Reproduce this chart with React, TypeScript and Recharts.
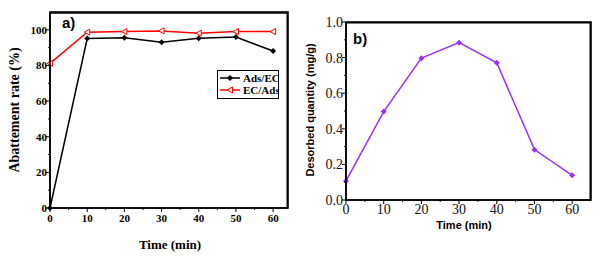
import { LineChart, Line, XAxis, YAxis, ReferenceLine } from 'recharts';

const times = [0, 10, 20, 30, 40, 50, 60];
const adsEc = [0, 95.1, 95.5, 93.0, 95.3, 95.9, 88.1];
const ecAds = [81.2, 98.7, 99.0, 99.4, 98.1, 99.0, 99.0];
const desorbed = [0.107, 0.497, 0.797, 0.884, 0.771, 0.283, 0.139];

const xMajor = [0, 10, 20, 30, 40, 50, 60];
const xMinor = [5, 15, 25, 35, 45, 55];
const yMajorA = [0, 20, 40, 60, 80, 100];
const yMinorA = [10, 30, 50, 70, 90];
const yMajorB = [0, 0.2, 0.4, 0.6, 0.8, 1.0];
const yMinorB = [0.1, 0.3, 0.5, 0.7, 0.9];

const dataA = times.map((t, i) => ({ time: t, adsEc: adsEc[i], ecAds: ecAds[i] }));
const dataB = times.map((t, i) => ({ time: t, q: desorbed[i] }));

const serif = '"Liberation Serif", "DejaVu Serif", serif';
const sans = '"Liberation Sans", Arial, sans-serif';

const xTick = (majors: number[], font: any, fmt: (v: number) => string) => (props: any) => {
  const { x, y, payload } = props;
  const major = majors.includes(payload.value);
  return (
    <g>
      <line x1={x} x2={x} y1={y} y2={y + (major ? 4 : 2)} stroke="#000" strokeWidth={1} />
      {major && (
        <text x={x} y={y + 14} textAnchor="middle" {...font}>
          {fmt(payload.value)}
        </text>
      )}
    </g>
  );
};

const yTick = (majors: number[], font: any, fmt: (v: number) => string, dy: number) => (props: any) => {
  const { x, y, payload } = props;
  const major = majors.some((m) => Math.abs(m - payload.value) < 1e-6);
  return (
    <g>
      <line x1={x} x2={x - (major ? 4 : 2)} y1={y} y2={y} stroke="#000" strokeWidth={1} />
      {major && (
        <text x={x - 3} y={y + dy} textAnchor="end" {...font}>
          {fmt(payload.value)}
        </text>
      )}
    </g>
  );
};

const DiamondDot = (props: any) => {
  const { cx, cy } = props;
  if (cx == null || cy == null) return null;
  return <path d={`M${cx},${cy - 3}L${cx + 3},${cy}L${cx},${cy + 3}L${cx - 3},${cy}Z`} fill="#000" />;
};

const TriDot = (props: any) => {
  const { cx, cy } = props;
  if (cx == null || cy == null) return null;
  return (
    <path
      d={`M${cx - 3},${cy}L${cx + 2.5},${cy - 3}L${cx + 2.5},${cy + 3}Z`}
      fill="#fff"
      stroke="#ff0000"
      strokeWidth={1}
    />
  );
};

const PurpleDot = (props: any) => {
  const { cx, cy } = props;
  if (cx == null || cy == null) return null;
  return <path d={`M${cx},${cy - 3}L${cx + 3},${cy}L${cx},${cy + 3}L${cx - 3},${cy}Z`} fill="#9b30ff" />;
};

// outline of the plot area, laid over the chart
const PlotBox = ({ x, y, w, h }: { x: number; y: number; w: number; h: number }) => (
  <svg width={303} height={261} style={{ position: 'absolute', left: 0, top: 0, zIndex: 5 }}>
    <rect x={x} y={y} width={w} height={h} fill="none" stroke="#000" strokeWidth={1.6} />
  </svg>
);

const LegendBox = () => (
  <svg width={62} height={29} style={{ position: 'absolute', left: 217, top: 70, zIndex: 6 }}>
    <rect x={0.5} y={0.5} width={61} height={28} fill="#fff" stroke="#000" strokeWidth={1} />
    <line x1={3} x2={23} y1={8} y2={8} stroke="#000" strokeWidth={1.5} />
    <path d="M13,5L16,8L13,11L10,8Z" fill="#000" />
    <text x={26} y={12} fontFamily={serif} fontWeight="bold" fontSize={11} fill="#000">
      Ads/EC
    </text>
    <line x1={3} x2={23} y1={20} y2={20} stroke="#ff0000" strokeWidth={1.5} />
    <path d="M10,20L15.5,17L15.5,23Z" fill="#fff" stroke="#ff0000" strokeWidth={1} />
    <text x={26} y={24} fontFamily={serif} fontWeight="bold" fontSize={11} fill="#000">
      EC/Ads
    </text>
  </svg>
);

const ChartA = () => {
  const tickFont = { fontFamily: serif, fontWeight: 'bold', fontSize: 11, fill: '#000' };
  return (
    <div style={{ position: 'absolute', left: 0, top: 0, width: 303, height: 261 }}>
      <LineChart width={303} height={261} data={dataA} margin={{ top: 12, right: 15, left: 0, bottom: 23 }}>
        <XAxis
          dataKey="time"
          type="number"
          domain={[0, 64]}
          ticks={[...xMajor, ...xMinor].sort((a, b) => a - b)}
          tick={xTick(xMajor, tickFont, (v) => String(v))}
          tickSize={0}
          tickMargin={0}
          height={30}
          stroke="#000"
          strokeWidth={1.5}
          interval={0}
        />
        <YAxis
          type="number"
          domain={[0, 110]}
          ticks={[...yMajorA, ...yMinorA].sort((a, b) => a - b)}
          tick={yTick(yMajorA, tickFont, (v) => String(v), 4)}
          tickSize={0}
          tickMargin={0}
          width={50}
          stroke="#000"
          strokeWidth={1.5}
          interval={0}
        />
        <ReferenceLine y={109.5} stroke="#000" strokeWidth={1.5} ifOverflow="visible" />
        <ReferenceLine x={63.8} stroke="#000" strokeWidth={1.5} ifOverflow="visible" />
        <Line dataKey="adsEc" stroke="#000" strokeWidth={1.5} dot={<DiamondDot />} isAnimationActive={false} />
        <Line dataKey="ecAds" stroke="#ff0000" strokeWidth={1.5} dot={<TriDot />} isAnimationActive={false} />
      </LineChart>
      <PlotBox x={50} y={12} w={238} h={196} />
      <LegendBox />
      <div style={{ position: 'absolute', left: 62, top: 14, fontFamily: sans, fontWeight: 'bold', fontSize: 15, color: '#000', zIndex: 6 }}>a)</div>
      <div style={{ position: 'absolute', left: 0, top: 237, width: 340, textAlign: 'center', fontFamily: serif, fontWeight: 'bold', fontSize: 13, color: '#000' }}>Time (min)</div>
      <div
        style={{
          position: 'absolute',
          left: 15,
          top: 110,
          transform: 'translate(-50%, -50%) rotate(-90deg)',
          whiteSpace: 'nowrap',
          fontFamily: serif,
          fontWeight: 'bold',
          fontSize: 14,
          color: '#000',
        }}
      >
        Abattement rate (%)
      </div>
    </div>
  );
};

const ChartB = () => {
  const tickFont = { fontFamily: serif, fontSize: 14, fill: '#111' };
  return (
    <div style={{ position: 'absolute', left: 303, top: 0, width: 303, height: 261 }}>
      <LineChart width={303} height={261} data={dataB} margin={{ top: 22, right: 15, left: 0, bottom: 31 }}>
        <XAxis
          dataKey="time"
          type="number"
          domain={[0, 65]}
          ticks={[...xMajor, ...xMinor].sort((a, b) => a - b)}
          tick={xTick(xMajor, tickFont, (v) => String(v))}
          tickSize={0}
          tickMargin={0}
          height={30}
          stroke="#000"
          strokeWidth={1.5}
          interval={0}
        />
        <YAxis
          type="number"
          domain={[0, 1]}
          ticks={[...yMajorB, ...yMinorB].sort((a, b) => a - b)}
          tick={yTick(yMajorB, tickFont, (v) => v.toFixed(1), 5)}
          tickSize={0}
          tickMargin={0}
          width={43}
          stroke="#000"
          strokeWidth={1.5}
          interval={0}
        />
        <ReferenceLine y={0.996} stroke="#000" strokeWidth={1.5} ifOverflow="visible" />
        <ReferenceLine x={64.8} stroke="#000" strokeWidth={1.5} ifOverflow="visible" />
        <Line dataKey="q" stroke="#9b30ff" strokeWidth={1.5} dot={<PurpleDot />} isAnimationActive={false} />
      </LineChart>
      <PlotBox x={43} y={22} w={245} h={178} />
      <div style={{ position: 'absolute', left: 50, top: 30, fontFamily: sans, fontWeight: 'bold', fontSize: 15, color: '#000', zIndex: 6 }}>b)</div>
      <div style={{ position: 'absolute', left: 43, top: 219, width: 236, textAlign: 'center', fontFamily: sans, fontWeight: 'bold', fontSize: 11, color: '#000' }}>Time (min)</div>
      <div
        style={{
          position: 'absolute',
          left: 7,
          top: 110,
          transform: 'translate(-50%, -50%) rotate(-90deg)',
          whiteSpace: 'nowrap',
          fontFamily: sans,
          fontWeight: 'bold',
          fontSize: 11,
          color: '#000',
        }}
      >
        Desorbed quantity (mg/g)
      </div>
    </div>
  );
};

export default function App() {
  return (
    <div style={{ position: 'absolute', left: 0, top: 0, width: 606, height: 261 }}>
      <ChartA />
      <ChartB />
    </div>
  );
}
